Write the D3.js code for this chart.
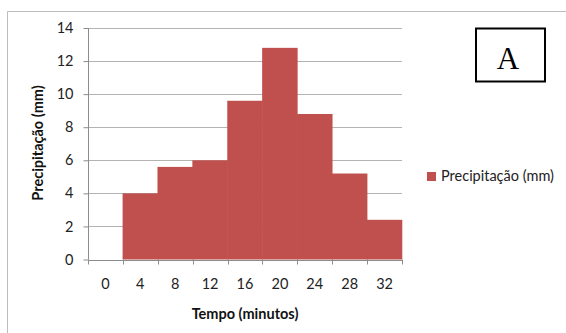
<!DOCTYPE html>
<html><head><meta charset="utf-8">
<script src="https://cdn.jsdelivr.net/npm/d3@7"></script>
<style>body{margin:0;background:#fff;}svg{display:block;}</style>
</head><body>
<svg id="c" width="566" height="333"></svg>
<script>
const categories = ["0","4","8","12","16","20","24","28","32"];
const values = [0, 4, 5.6, 6, 9.6, 12.8, 8.8, 5.2, 2.4];
const yTicks = [0, 2, 4, 6, 8, 10, 12, 14];
const seriesName = "Precipitação (mm)";
const xTitle = "Tempo (minutos)";
const yTitle = "Precipitação (mm)";

const svg = d3.select("#c");
const font = "Lato, 'Liberation Sans', sans-serif";
const fs = 14.5;
const m = {l: 88, r: 402, t: 28, b: 259.5};

// outer chart border
svg.append("path").attr("d", "M7.5,333 L7.5,11.5 L566,11.5")
  .attr("fill", "none").attr("stroke", "#bdbdbd").attr("stroke-width", 1);

const x = d3.scaleBand().domain(categories).range([m.l, m.r]).padding(0);
const y = d3.scaleLinear().domain([0, 14]).range([m.b, m.t]);

// gridlines
svg.append("g").selectAll("line").data(yTicks.filter(d => d > 0)).join("line")
  .attr("x1", m.l).attr("x2", m.r)
  .attr("y1", d => Math.round(y(d)) + 0.5).attr("y2", d => Math.round(y(d)) + 0.5)
  .attr("stroke", "#b3b3b3").attr("stroke-width", 1);

// bars (no gaps, merged outline)
svg.append("g").selectAll("rect").data(values.map((v, i) => ({c: categories[i], v})))
  .join("rect")
  .attr("x", d => x(d.c) - 0.3).attr("width", x.bandwidth() + 0.6)
  .attr("y", d => y(d.v)).attr("height", d => y(0) - y(d.v))
  .attr("fill", "#c0504d").attr("stroke", "none");

// y axis
const ya = svg.append("g").attr("transform", `translate(${m.l + 0.5},0)`)
  .call(d3.axisLeft(y).tickValues(yTicks).tickSize(5).tickPadding(10));
ya.select(".domain").attr("stroke", "#8c8c8c").attr("d", `M0,${y(0)}V${y(14)}`);
ya.selectAll(".tick line").attr("stroke", "#8c8c8c");
ya.selectAll(".tick text").attr("font-family", font).attr("font-size", fs).attr("fill", "#222");

// x axis
const boundaries = d3.range(categories.length + 1).map(i => m.l + i * x.bandwidth());
const xa = svg.append("g");
xa.append("line").attr("x1", m.l).attr("x2", m.r).attr("y1", Math.round(y(0)) + 0.5).attr("y2", Math.round(y(0)) + 0.5)
  .attr("stroke", "#8c8c8c");
xa.selectAll("line.t").data(boundaries).join("line").attr("class", "t")
  .attr("x1", d => Math.round(d) + 0.5).attr("x2", d => Math.round(d) + 0.5)
  .attr("y1", y(0)).attr("y2", y(0) + 5).attr("stroke", "#8c8c8c");
xa.selectAll("text").data(categories).join("text")
  .attr("x", d => x(d) + x.bandwidth() / 2).attr("y", 289)
  .attr("text-anchor", "middle").attr("font-family", font).attr("font-size", fs).attr("fill", "#222")
  .text(d => d);

// axis titles
svg.append("text").attr("x", 245).attr("y", 319).attr("text-anchor", "middle")
  .attr("font-family", font).attr("font-size", fs).attr("font-weight", "bold").attr("fill", "#111")
  .text(xTitle);
svg.append("text").attr("transform", "translate(43,143) rotate(-90)").attr("text-anchor", "middle")
  .attr("font-family", font).attr("font-size", fs).attr("font-weight", "bold").attr("fill", "#111")
  .text(yTitle);

// legend
svg.append("rect").attr("x", 427).attr("y", 172).attr("width", 9).attr("height", 9).attr("fill", "#c0504d");
svg.append("text").attr("x", 441).attr("y", 181).attr("font-family", font).attr("font-size", fs).attr("fill", "#222")
  .text(seriesName);

// "A" box
svg.append("rect").attr("x", 476).attr("y", 28.5).attr("width", 69).attr("height", 53)
  .attr("fill", "#fff").attr("stroke", "#000").attr("stroke-width", 2);
svg.append("text").attr("x", 508).attr("y", 68.5).attr("text-anchor", "middle")
  .attr("font-family", "'Liberation Serif', 'Times New Roman', serif").attr("font-size", 31).attr("fill", "#000")
  .text("A");
</script>
</body></html>
